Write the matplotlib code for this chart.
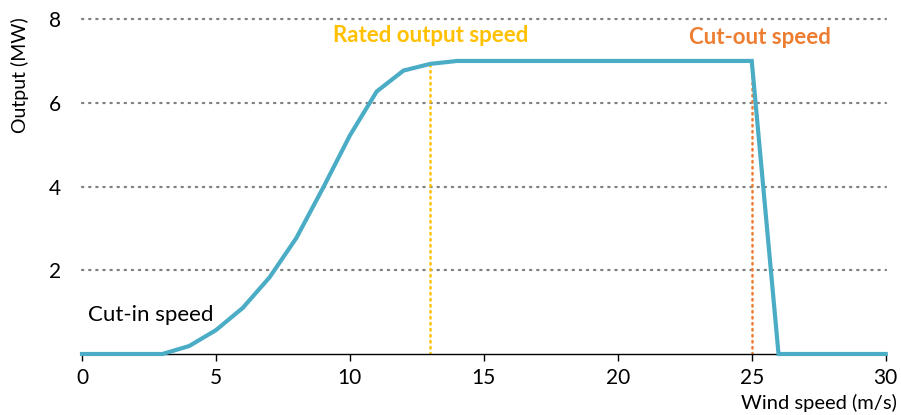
import numpy as np
import matplotlib.pyplot as plt

plt.rcParams['font.family'] = ['Lato', 'DejaVu Sans']

# power curve
wind = [0, 3, 4, 5, 6, 7, 8, 9, 10, 11, 12, 13, 14, 25, 26, 30]
output = [0, 0, 0.19, 0.57, 1.1, 1.83, 2.77, 3.97, 5.22, 6.27, 6.77, 6.93, 7.0, 7.0, 0, 0]

rated_speed = 13
rated_top = 6.93
cutout_speed = 25
cutout_top = 7.0

xticks = [0, 5, 10, 15, 20, 25, 30]
yticks = [2, 4, 6, 8]

fig = plt.figure(figsize=(9.01, 4.15), dpi=100)
ax = fig.add_axes([0.091, 0.147, 0.892, 0.807])

for y in yticks:
    ax.plot([0, 30], [y, y], color='#7f7f7f', lw=1.6, ls=(0, (0.6, 2.6)),
            dash_capstyle='round', zorder=1, clip_on=False)

ax.plot([rated_speed, rated_speed], [0, rated_top], color='#FFC000', lw=1.8,
        ls=(0, (0.6, 1.8)), dash_capstyle='round', zorder=2)
ax.plot([cutout_speed, cutout_speed], [0, cutout_top], color='#ED7D31', lw=1.8,
        ls=(0, (0.6, 1.8)), dash_capstyle='round', zorder=2)

ax.plot(wind, output, color='#4BACC6', lw=3, zorder=3, clip_on=False,
        solid_joinstyle='miter')

ax.text(13, 7.6, 'Rated output speed', color='#FFC000', fontsize=16,
        fontweight='bold', ha='center', va='center')
ax.text(25.3, 7.57, 'Cut-out speed', color='#ED7D31', fontsize=16,
        fontweight='bold', ha='center', va='center')
ax.text(2.55, 0.94, 'Cut-in speed', color='black', fontsize=16,
        ha='center', va='center')

ax.set_xlim(0, 30)
ax.set_ylim(0, 8)
ax.set_xticks(xticks)
ax.set_yticks(yticks)
ax.tick_params(axis='x', length=5, width=1, labelsize=15, pad=5)
ax.tick_params(axis='y', length=0, labelsize=15, pad=15)
for s in ['top', 'right', 'left']:
    ax.spines[s].set_visible(False)
ax.spines['bottom'].set_linewidth(1)

fig.text(0.022, 0.82, 'Output (MW)', rotation=90, fontsize=14,
         ha='center', va='center')
fig.text(0.995, 0.028, 'Wind speed (m/s)', fontsize=14.5, ha='right', va='center')

fig.savefig('out.png', dpi=100)
